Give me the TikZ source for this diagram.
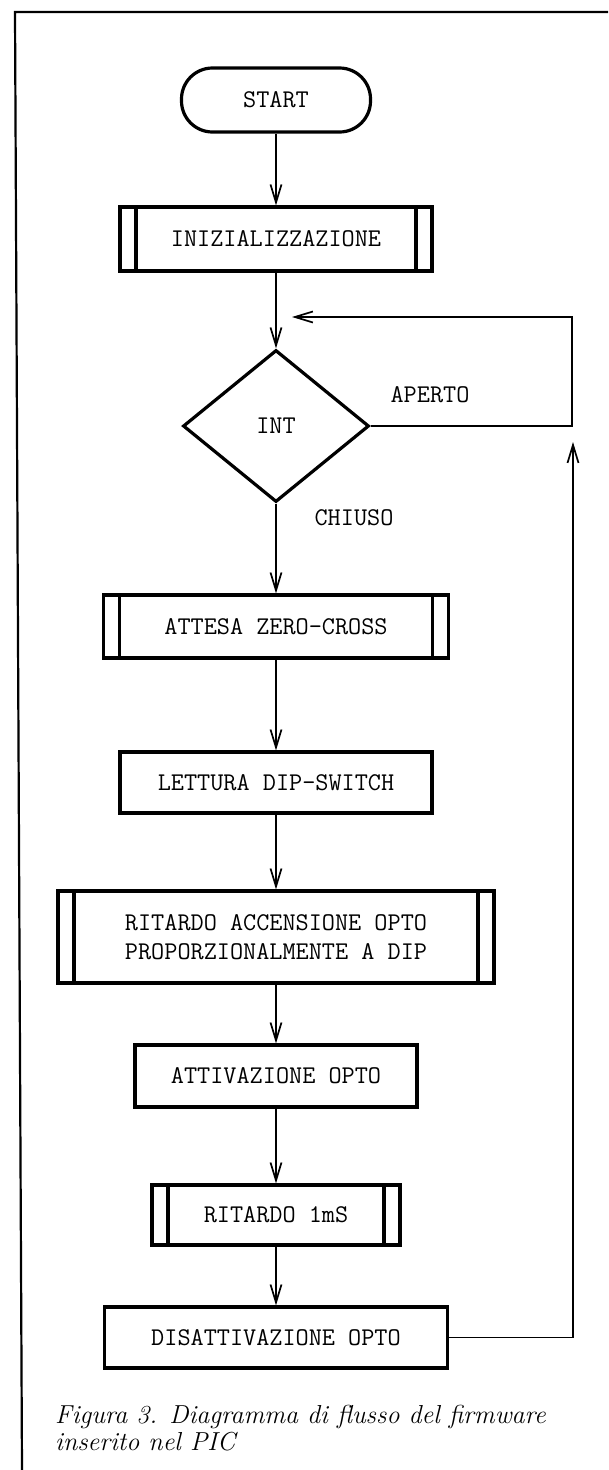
\documentclass[tikz,border=0pt]{standalone}
\usepackage{fontspec}
\usetikzlibrary{shapes.geometric,arrows.meta}
\begin{document}
\begin{tikzpicture}[x=1pt,y=1pt,
  box/.style={draw, line width=3.2pt, rectangle, inner sep=0pt, align=center,
    font=\fontsize{25.5}{29}\ttfamily},
  subproc/.style={box, path picture={
    \draw[line width=3.2pt]
      ([xshift=16pt]path picture bounding box.north west) -- ([xshift=16pt]path picture bounding box.south west)
      ([xshift=-16pt]path picture bounding box.north east) -- ([xshift=-16pt]path picture bounding box.south east);}},
  term/.style={box, rounded corners=31pt},
  decision/.style={draw, line width=3.2pt, diamond, inner sep=0pt, font=\fontsize{25.5}{29}\ttfamily},
  lbl/.style={font=\fontsize{25.5}{29}\ttfamily, inner sep=0pt},
  conn/.style={line width=1.7pt},
  arr/.style={conn, -{Straight Barb[length=18pt,width=11pt,line width=1.7pt]}},
  frame/.style={line width=2.2pt}]
\useasboundingbox (0,0) rectangle (608,-1470);
% frame
\coordinate (ftl) at (15,-12);
\coordinate (ftr) at (608,-12);
\coordinate (fbl) at (22,-1470);
\draw[frame] (ftr) -- (ftl) -- (fbl);
% nodes
\node[term, minimum width=189pt, minimum height=64pt] (start) at (276,-100) {START};
\node[subproc, minimum width=312pt, minimum height=64pt] (init) at (276,-239) {INIZIALIZZAZIONE};
\node[decision, minimum width=186pt, minimum height=152pt] (int) at (276,-426) {INT};
\node[subproc, minimum width=345pt, minimum height=63pt] (zc) at (276,-626.5) {ATTESA ZERO-CROSS};
\node[box, minimum width=312pt, minimum height=61pt] (dip) at (276,-782.5) {LETTURA DIP-SWITCH};
\node[subproc, minimum width=436pt, minimum height=92pt] (rit) at (276,-937) {RITARDO ACCENSIONE OPTO\\PROPORZIONALMENTE A DIP};
\node[box, minimum width=282pt, minimum height=62pt] (att) at (276,-1076) {ATTIVAZIONE OPTO};
\node[subproc, minimum width=248pt, minimum height=60pt] (ms) at (276,-1215) {RITARDO 1mS};
\node[box, minimum width=343pt, minimum height=61pt] (dis) at (276,-1337.5) {DISATTIVAZIONE OPTO};
% labels
\node[lbl] (aperto) at (430,-395) {APERTO};
\node[lbl] (chiuso) at (354,-518) {CHIUSO};
% connectors
\draw[arr] (start) -- (init);
\draw[arr] (init) -- (int);
\draw[arr] (int) -- (zc);
\draw[arr] (zc) -- (dip);
\draw[arr] (dip) -- (rit);
\draw[arr] (rit) -- (att);
\draw[arr] (att) -- (ms);
\draw[arr] (ms) -- (dis);
\coordinate (loopin) at (292,-317);
\coordinate (loopup) at (573,-442);
\draw[arr] (int.east) -- (572,-426) -- (572,-317) -- (loopin);
\draw[arr] (dis.east) -- (573,-1337.5) -- (loopup);
% caption
\node[anchor=base west, inner sep=0pt, align=left, font=\fontsize{26}{27}\selectfont\itshape] (cap) at (55,-1450)
  {Figura 3. Diagramma di flusso del firmware\\inserito nel PIC};
\end{tikzpicture}
\end{document}
